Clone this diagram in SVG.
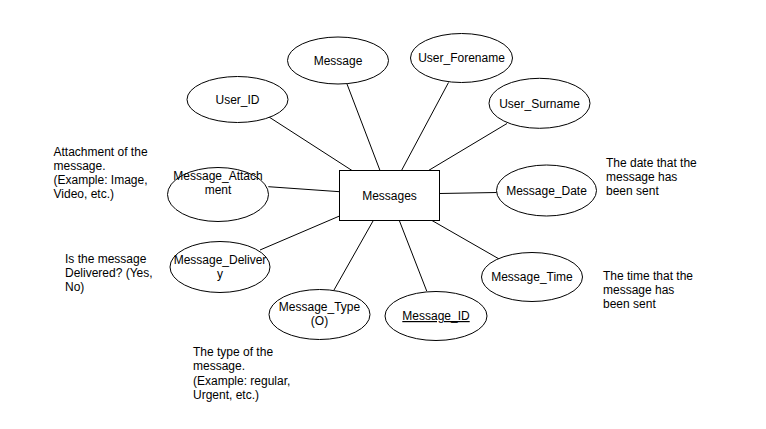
<svg xmlns="http://www.w3.org/2000/svg" width="766" height="429" viewBox="0 0 766 429">
<style>
.s{fill:#fff;stroke:#000;stroke-width:1}
.t{font-family:"Liberation Sans",Arial,sans-serif;font-size:12px;fill:#000}
.c{text-anchor:middle}
#connectors line{stroke:#000;stroke-width:1}
</style>
<rect width="766" height="429" fill="#fff"/>
<g id="connectors">
<line x1="269" y1="117" x2="352" y2="170.5"/>
<line x1="347" y1="84" x2="380" y2="170.5"/>
<line x1="448.5" y1="82.5" x2="401.5" y2="170.5"/>
<line x1="507" y1="123.5" x2="428.5" y2="170.5"/>
<line x1="439.5" y1="193.5" x2="496.7" y2="192.5"/>
<line x1="268.3" y1="186.7" x2="339.5" y2="191.7"/>
<line x1="260" y1="250" x2="339.5" y2="216"/>
<line x1="373.3" y1="220.5" x2="334" y2="290"/>
<line x1="399.3" y1="220.5" x2="426.7" y2="291"/>
<line x1="432" y1="220.5" x2="500" y2="259.5"/>
</g>
<g id="messages"><rect class="s" x="339.5" y="170.5" width="100" height="50"/><text class="t c" x="389.5" y="199.5">Messages</text></g>
<g id="user_id"><ellipse class="s" cx="237.5" cy="99.5" rx="50.5" ry="23"/><text class="t c" x="237.5" y="103.5">User_ID</text></g>
<g id="message"><ellipse class="s" cx="338" cy="60.5" rx="50.5" ry="23.5"/><text class="t c" x="338" y="64.5">Message</text></g>
<g id="user_forename"><ellipse class="s" cx="461.5" cy="58" rx="51" ry="24.5"/><text class="t c" x="461.5" y="62">User_Forename</text></g>
<g id="user_surname"><ellipse class="s" cx="539.5" cy="103.3" rx="50.5" ry="25"/><text class="t c" x="539.5" y="107.5">User_Surname</text></g>
<g id="message_attachment"><ellipse class="s" cx="218" cy="194.5" rx="50.5" ry="27"/><text class="t c" x="218" y="179.5">Message_Attach</text><text class="t c" x="218" y="193.5">ment</text></g>
<g id="message_delivery"><ellipse class="s" cx="220" cy="267" rx="50" ry="25.5"/><text class="t c" x="220" y="263.5">Message_Deliver</text><text class="t c" x="220" y="277.5">y</text></g>
<g id="message_date"><ellipse class="s" cx="546.5" cy="190.5" rx="50" ry="25.5"/><text class="t c" x="546.5" y="194.5">Message_Date</text></g>
<g id="message_time"><ellipse class="s" cx="532" cy="277" rx="50.5" ry="24.5"/><text class="t c" x="532" y="281">Message_Time</text></g>
<g id="message_type"><ellipse class="s" cx="319.5" cy="314.5" rx="50.5" ry="25"/><text class="t c" x="319.5" y="311">Message_Type</text><text class="t c" x="319.5" y="325">(O)</text></g>
<g id="message_id"><ellipse class="s" cx="436" cy="316" rx="51" ry="24.5"/><text class="t c" x="436" y="320" text-decoration="underline">Message_ID</text></g>
<g id="note_attachment"><text class="t" x="53.5" y="156">Attachment of the</text><text class="t" x="53.5" y="170">message.</text><text class="t" x="53.5" y="184">(Example: Image,</text><text class="t" x="53.5" y="198">Video, etc.)</text></g>
<g id="note_delivery"><text class="t" x="65" y="263">Is the message</text><text class="t" x="65" y="277">Delivered? (Yes,</text><text class="t" x="65" y="291">No)</text></g>
<g id="note_date"><text class="t" x="606" y="167">The date that the</text><text class="t" x="606" y="181">message has</text><text class="t" x="606" y="195">been sent</text></g>
<g id="note_time"><text class="t" x="603" y="280">The time that the</text><text class="t" x="603" y="294">message has</text><text class="t" x="603" y="308">been sent</text></g>
<g id="note_type"><text class="t" x="193" y="356">The type of the</text><text class="t" x="193" y="370">message.</text><text class="t" x="193" y="384.5">(Example: regular,</text><text class="t" x="193" y="399">Urgent, etc.)</text></g>
</svg>
